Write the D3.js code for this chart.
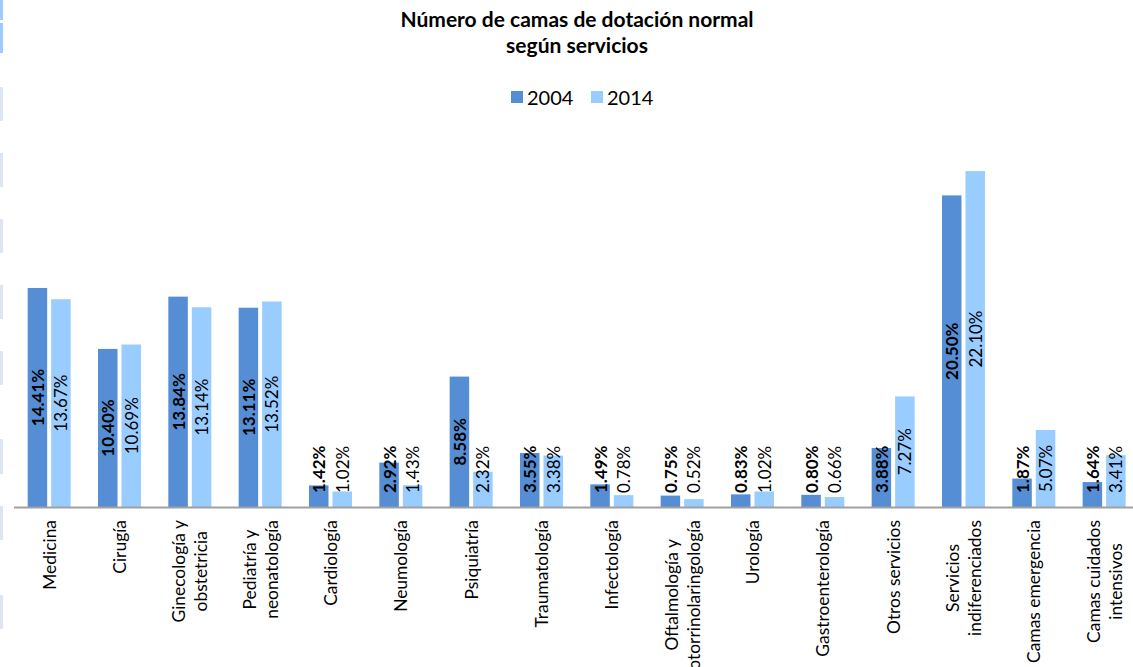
<!DOCTYPE html>
<meta charset="utf-8">
<head>
  <title>Número de camas de dotación normal</title>
  <script src="https://d3js.org/d3.v7.min.js"></script>
  <style>
    body { margin: 0; background: #fff; }
    svg { display: block; font-family: Lato, "Open Sans", sans-serif; }
  </style>
</head>
<body>
<div id="chart"></div>
<script>

// categories (line breaks as in the original labels)
var categories = [
  ["Medicina"],
  ["Cirugía"],
  ["Ginecología y", "obstetricia"],
  ["Pediatría y", "neonatología"],
  ["Cardiología"],
  ["Neumología"],
  ["Psiquiatría"],
  ["Traumatología"],
  ["Infectología"],
  ["Oftalmología y", "otorrinolaringología"],
  ["Urología"],
  ["Gastroenterología"],
  ["Otros servicios"],
  ["Servicios", "indiferenciados"],
  ["Camas emergencia"],
  ["Camas cuidados", "intensivos"]
];
var series = ["2004", "2014"];
var values2004 = [14.41, 10.40, 13.84, 13.11, 1.42, 2.92, 8.58, 3.55, 1.49, 0.75, 0.83, 0.80, 3.88, 20.50, 1.87, 1.64];
var values2014 = [13.67, 10.69, 13.14, 13.52, 1.02, 1.43, 2.32, 3.38, 0.78, 0.52, 1.02, 0.66, 7.27, 22.10, 5.07, 3.41];
var colors = ["#558ed5", "#99ccff"];

var W = 1133, H = 667;
var baseY = 507;

var svg = d3.select("#chart").append("svg")
  .attr("width", W)
  .attr("height", H);

// faint strips along the left edge of the original picture
var strips = [[0, 20, "#99ccff"], [23, 53, "#99ccff"], [87, 121], [153, 187], [219, 253],
              [285, 319], [351, 385], [439, 474], [506, 540], [595, 629]];
svg.selectAll("rect.strip")
  .data(strips)
  .enter().append("rect")
    .attr("class", "strip")
    .attr("x", 0)
    .attr("y", function(d) { return d[0]; })
    .attr("width", 3)
    .attr("height", function(d) { return d[1] - d[0]; })
    .attr("fill", function(d) { return d[2] || "#dce6f2"; });

// title
svg.append("text")
  .attr("x", 577).attr("y", 27)
  .attr("text-anchor", "middle")
  .style("font-weight", "bold").style("font-size", "21px")
  .text("Número de camas de dotación normal");
svg.append("text")
  .attr("x", 577).attr("y", 53)
  .attr("text-anchor", "middle")
  .style("font-weight", "bold").style("font-size", "21px")
  .text("según servicios");

// legend
var legend = svg.append("g").selectAll("g")
  .data(series)
  .enter().append("g")
    .attr("transform", function(d, i) { return "translate(" + (511 + i * 80) + ",91)"; });
legend.append("rect")
  .attr("width", 12).attr("height", 12)
  .attr("fill", function(d, i) { return colors[i]; });
legend.append("text")
  .attr("x", 16).attr("y", 6)
  .attr("dominant-baseline", "central")
  .style("font-size", "20px")
  .text(function(d) { return d; });

// scales
var x = d3.scaleBand()
  .domain(d3.range(categories.length))
  .range([14, 1139.3]);

var xSub = d3.scaleBand()
  .domain(series)
  .range([x.bandwidth() / 2 - 21.5, x.bandwidth() / 2 + 21.5])
  .paddingInner(0.17);

var y = d3.scaleLinear()
  .domain([0, 25])
  .range([baseY, baseY - 380]);

var rows = categories.map(function(c, i) {
  return {i: i, values: [
    {key: "2004", value: values2004[i], k: 0},
    {key: "2014", value: values2014[i], k: 1}
  ]};
});

var groups = svg.append("g").selectAll("g")
  .data(rows)
  .enter().append("g")
    .attr("transform", function(d) { return "translate(" + x(d.i) + ",0)"; });

groups.selectAll("rect")
  .data(function(d) { return d.values; })
  .enter().append("rect")
    .attr("x", function(d) { return xSub(d.key); })
    .attr("y", function(d) { return y(d.value); })
    .attr("width", xSub.bandwidth())
    .attr("height", function(d) { return baseY - y(d.value); })
    .attr("fill", function(d) { return colors[d.k]; });

// value labels, centred in the bar but kept above the axis
groups.selectAll("text")
  .data(function(d) { return d.values; })
  .enter().append("text")
    .style("font-size", "17px")
    .style("font-weight", function(d) { return d.k === 0 ? "bold" : "normal"; })
    .attr("text-anchor", "middle")
    .attr("dominant-baseline", "central")
    .text(function(d) { return d.value.toFixed(2) + "%"; })
    .attr("transform", function(d) {
      var len = this.getComputedTextLength();
      var cx = xSub(d.key) + xSub.bandwidth() / 2;
      var cy = Math.min((y(d.value) + baseY) / 2, baseY - 14 - len / 2);
      return "translate(" + cx + "," + cy + ") rotate(-90)";
    });

// axis line
svg.append("line")
  .attr("x1", 14).attr("x2", W)
  .attr("y1", baseY + 0.5).attr("y2", baseY + 0.5)
  .attr("stroke", "#a0a0a0")
  .attr("stroke-width", 2);

// category labels
var cats = svg.append("g").selectAll("g")
  .data(categories)
  .enter().append("g")
    .attr("transform", function(d, i) {
      return "translate(" + (x(i) + x.bandwidth() / 2) + "," + (baseY + 13) + ") rotate(-90)";
    });

cats.each(function(lines) {
  var g = d3.select(this);
  var texts = g.selectAll("text")
    .data(lines)
    .enter().append("text")
      .style("font-size", "17.4px")
      .attr("text-anchor", "middle")
      .attr("dominant-baseline", "central")
      .attr("y", function(d, j) { return (j - (lines.length - 1) / 2) * 22; })
      .text(function(d) { return d; });
  var maxLen = d3.max(texts.nodes(), function(n) { return n.getComputedTextLength(); });
  texts.attr("x", -maxLen / 2);
});

</script>
</body>
</html>
